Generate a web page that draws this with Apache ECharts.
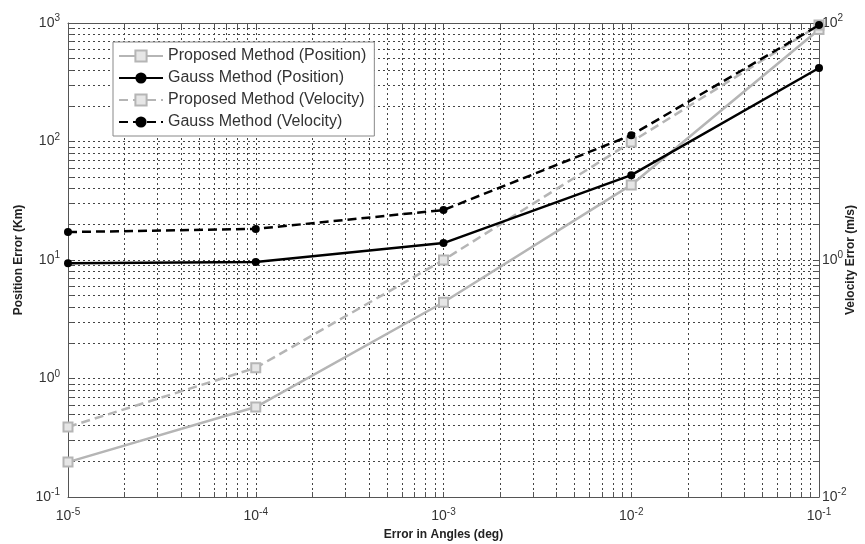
<!DOCTYPE html>
<html>
<head>
<meta charset="utf-8">
<script src="https://cdn.jsdelivr.net/npm/echarts@6/dist/echarts.min.js"></script>
<style>html,body{margin:0;padding:0;background:#fff}#c{width:865px;height:544px}</style>
</head>
<body>
<div id="c"></div>
<script>
// ---- data ----
const angles = [1e-5, 1e-4, 1e-3, 1e-2, 1e-1];
const proposedPosition = [0.197, 0.574, 4.4, 43, 880];      // Km
const gaussPosition    = [9.4, 9.6, 13.9, 52, 417];          // Km
const proposedVelocity = [0.039, 0.123, 1.0, 9.9, 96];       // m/s
const gaussVelocity    = [1.72, 1.83, 2.64, 11.3, 96];       // m/s
const seriesNames = ['Proposed Method (Position)', 'Gauss Method (Position)', 'Proposed Method (Velocity)', 'Gauss Method (Velocity)'];
const xLabelValues = [1e-5, 1e-4, 1e-3, 1e-2, 1e-1];
const yLeftLabelValues = [1e-1, 1e0, 1e1, 1e2, 1e3];
const yRightLabelValues = [1e-2, 1e0, 1e2];

function decadeTicks(e0, e1) {
  const out = [];
  for (let e = e0; e < e1; e++) for (let m = 1; m <= 9; m++) out.push(Number((m * Math.pow(10, e)).toPrecision(3)));
  out.push(Number(Math.pow(10, e1).toPrecision(3)));
  return out;
}
const xTicks = decadeTicks(-5, -1);
const yLeftTicks = decadeTicks(-1, 3);
const yRightTicks = decadeTicks(-2, 2);

function pairs(xs, ys) { return xs.map((x, i) => [x, ys[i]]); }
function pow10Label(v) {
  const e = Math.round(Math.log10(v));
  return '10{s|' + e + '}';
}
const labelRich = { s: { fontSize: 10, verticalAlign: 'top', padding: [0, 0, 9, 0], color: '#333', fontFamily: 'Liberation Sans' } };
const GRAY = '#b5b5b5';
const AXC = '#555';

const tickBase = { show: true, inside: true, length: 5, lineStyle: { color: AXC, width: 1 } };
const splitBase = { show: true, lineStyle: { color: '#444', width: 1, type: [2, 3] } };

const chart = echarts.init(document.getElementById('c'), null, { renderer: 'canvas' });
chart.setOption({
  animation: false,
  backgroundColor: '#fff',
  textStyle: { fontFamily: 'Liberation Sans' },
  grid: { left: 68, right: 46, top: 23, bottom: 47, containLabel: false, outerBoundsMode: 'none' },
  legend: {
    orient: 'vertical', left: 113, top: 42,
    data: seriesNames,
    backgroundColor: '#fff', borderColor: '#888', borderWidth: 1,
    padding: [6, 8, 6, 5], itemGap: 6, itemWidth: 44, itemHeight: 14,
    textStyle: { fontSize: 16, color: '#333', fontFamily: 'Liberation Sans' },
    z: 10
  },
  xAxis: [{
    type: 'log', logBase: 10, min: 1e-5, max: 1e-1, position: 'bottom',
    name: 'Error in Angles (deg)', nameLocation: 'middle', nameGap: 29,
    nameTextStyle: { fontSize: 12, fontWeight: 'bold', color: '#222' },
    axisLine: { show: true, lineStyle: { color: AXC, width: 1 } },
    axisTick: Object.assign({ customValues: xTicks }, tickBase),
    axisLabel: { customValues: xLabelValues, formatter: pow10Label, rich: labelRich, fontSize: 14, color: '#333', margin: 10, showMinLabel: true, showMaxLabel: true },
    splitLine: splitBase
  }, {
    type: 'log', logBase: 10, min: 1e-5, max: 1e-1, position: 'top',
    axisLine: { show: true, lineStyle: { color: AXC, width: 1 } },
    axisTick: Object.assign({ customValues: xTicks }, tickBase),
    axisLabel: { show: false },
    splitLine: { show: false }
  }],
  yAxis: [{
    type: 'log', logBase: 10, min: 1e-1, max: 1e3, position: 'left',
    name: 'Position Error (Km)', nameLocation: 'middle', nameGap: 49, nameRotate: 90, nameMoveOverlap: false,
    nameTextStyle: { fontSize: 12, fontWeight: 'bold', color: '#222', align: 'center', verticalAlign: 'middle' },
    axisLine: { show: true, lineStyle: { color: AXC, width: 1 } },
    axisTick: Object.assign({ customValues: yLeftTicks }, tickBase),
    axisLabel: { customValues: yLeftLabelValues, formatter: pow10Label, rich: labelRich, fontSize: 14, color: '#333', margin: 8, showMinLabel: true, showMaxLabel: true },
    splitLine: splitBase
  }, {
    type: 'log', logBase: 10, min: 1e-2, max: 1e2, position: 'right',
    name: 'Velocity Error (m/s)', nameLocation: 'middle', nameGap: 32, nameRotate: 90, nameMoveOverlap: false,
    nameTextStyle: { fontSize: 12, fontWeight: 'bold', color: '#222', align: 'center', verticalAlign: 'middle' },
    axisLine: { show: true, lineStyle: { color: AXC, width: 1 } },
    axisTick: Object.assign({ customValues: yRightTicks }, tickBase),
    axisLabel: { customValues: yRightLabelValues, formatter: pow10Label, rich: labelRich, fontSize: 14, color: '#333', margin: 3, showMinLabel: true, showMaxLabel: true },
    splitLine: { show: false }
  }],
  series: [{
    name: seriesNames[0], type: 'line', xAxisIndex: 0, yAxisIndex: 0,
    data: pairs(angles, proposedPosition),
    symbol: 'rect', symbolSize: 9,
    lineStyle: { color: GRAY, width: 2.5, type: 'solid' },
    itemStyle: { color: '#e6e6e6', borderColor: GRAY, borderWidth: 2 }, z: 3
  }, {
    name: seriesNames[1], type: 'line', xAxisIndex: 0, yAxisIndex: 0,
    data: pairs(angles, gaussPosition),
    symbol: 'circle', symbolSize: 8,
    lineStyle: { color: '#000', width: 2.5, type: 'solid' },
    itemStyle: { color: '#000' }, z: 4
  }, {
    name: seriesNames[2], type: 'line', xAxisIndex: 0, yAxisIndex: 1,
    data: pairs(angles, proposedVelocity),
    symbol: 'rect', symbolSize: 9,
    lineStyle: { color: GRAY, width: 2.5, type: [9, 5] },
    itemStyle: { color: '#e6e6e6', borderColor: GRAY, borderWidth: 2 }, z: 3
  }, {
    name: seriesNames[3], type: 'line', xAxisIndex: 0, yAxisIndex: 1,
    data: pairs(angles, gaussVelocity),
    symbol: 'circle', symbolSize: 8,
    lineStyle: { color: '#000', width: 2.5, type: [9, 5] },
    itemStyle: { color: '#000' }, z: 4
  }]
});
</script>
</body>
</html>
